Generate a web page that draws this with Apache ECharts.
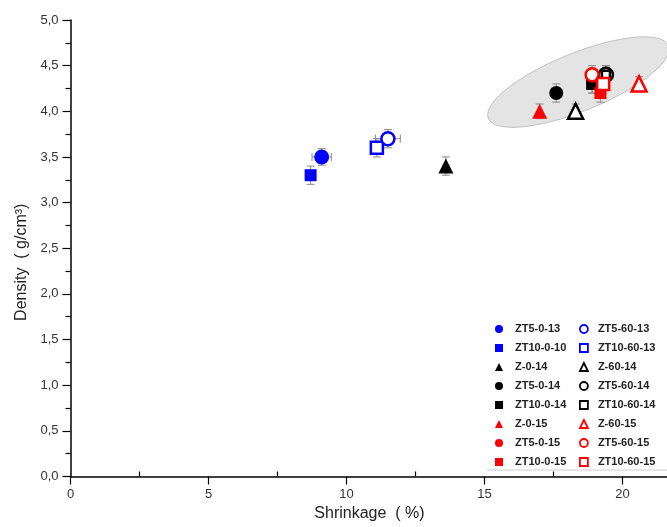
<!DOCTYPE html>
<html><head><meta charset="utf-8">
<script src="https://cdn.jsdelivr.net/npm/echarts@6/dist/echarts.min.js"></script>
<style>html,body{margin:0;padding:0;background:#fff}#c{width:667px;height:527px}</style>
</head><body><div id="c"></div>
<script>
// ---- data ----
const names = ['ZT5-0-13','ZT10-0-10','Z-0-14','ZT5-0-14','ZT10-0-14','Z-0-15','ZT5-0-15','ZT10-0-15',
  'ZT5-60-13','ZT10-60-13','Z-60-14','ZT5-60-14','ZT10-60-14','Z-60-15','ZT5-60-15','ZT10-60-15'];
const shrinkage = [9.1, 8.7, 13.6, 17.6, 18.9, 17.0, 18.9, 19.2, 11.5, 11.1, 18.3, 19.4, 19.4, 20.6, 18.9, 19.3];
const density   = [3.5, 3.3, 3.4, 4.2, 4.3, 4.0, 4.3, 4.2, 3.7, 3.6, 4.0, 4.4, 4.4, 4.3, 4.4, 4.3];
const shrinkErr = [0.35, 0, 0, 0, 0, 0, 0, 0, 0.45, 0.15, 0, 0, 0, 0, 0, 0];
const densityErr= [0.09, 0.1, 0.1, 0.1, 0.1, 0.08, 0.1, 0.1, 0.1, 0.1, 0.08, 0.1, 0.1, 0.08, 0.1, 0.1];
const xTicks = [0, 5, 10, 15, 20];
const yTicks = [0, 0.5, 1, 1.5, 2, 2.5, 3, 3.5, 4, 4.5, 5];
// cluster ellipse (annotation), centre in data units
const ellipseCentre = [18.4, 4.32];

// ---- styles ----
const colors  = ['#0000ff','#0000ff','#000','#000','#000','#ff0000','#ff0000','#ff0000',
                 '#0000ff','#0000ff','#000','#000','#000','#ff0000','#ff0000','#ff0000'];
const symbols = ['circle','rect','triangle','circle','rect','triangle','circle','rect',
                 'circle','rect','triangle','circle','rect','triangle','circle','rect'];
const hollow  = [0,0,0,0,0,0,0,0,1,1,1,1,1,1,1,1];
const sizes   = [15,12,15,14,12,15,12,12, 13,12,15,14,8,15,13,12];
// draw order (later = on top)
const drawOrder = [1,0,9,8,2,10,3,6,4,11,12,5,13,14,7,15];

const chart = echarts.init(document.getElementById('c'));
const fmt = v => String(v.toFixed(1)).replace('.', ',');

const scatterSeries = drawOrder.map(i => ({
  name: names[i], type: 'scatter', symbol: symbols[i], symbolSize: sizes[i],
  data: [[shrinkage[i], density[i]]],
  itemStyle: hollow[i] ? {color:'#fff', borderColor: colors[i], borderWidth: 2.5, opacity:1}
                       : {color: colors[i], opacity:1},
  z: 5
}));

const errData = names.map((n,i) => [shrinkage[i], density[i], shrinkErr[i], densityErr[i]]);

function legendItems(idx) {
  return idx.map(i => ({
    name: names[i], icon: symbols[i],
    itemStyle: hollow[i] ? {color:'#fff', borderColor: colors[i], borderWidth: 1.8}
                         : {color: colors[i], borderWidth: 0}
  }));
}
const legText = pad => ({fontFamily: 'Liberation Sans', fontWeight: 'bold', fontSize: 11, color: '#222',
  lineHeight: 12, padding: [0, 0, 0, pad]});

const axisCommon = {
  type: 'value', min: 0, max: 25, interval: 5
};

const option = {
  animation: false,
  backgroundColor: '#fff',
  grid: {left: 70.5, top: 20, width: 690, bottom: 50.5, containLabel: false, outerBoundsMode: 'none'},
  xAxis: [{
    ...axisCommon, position: 'bottom',
    name: 'Shrinkage  ( %)', nameLocation: 'middle', nameGap: 27,
    nameTextStyle: {fontFamily: 'Liberation Sans', fontSize: 16, color: '#222', padding: [0, 92, 0, 0]},
    axisLine: {show: true, onZero: false, lineStyle: {color: '#000', width: 1.5}},
    axisTick: {show: true, length: 8, lineStyle: {color: '#000', width: 1.2}},
    minorTick: {show: false},
    axisLabel: {margin: 11, fontFamily: 'Liberation Sans', fontSize: 13, color: '#333',
      formatter: v => xTicks.includes(v) ? String(v) : ''},
    splitLine: {show: false}
  }, {
    ...axisCommon, position: 'bottom', offset: 0,
    axisLine: {show: false, onZero: false},
    axisTick: {show: false, inside: true},
    minorTick: {show: true, splitNumber: 2, length: 5, lineStyle: {color: '#000', width: 1.2}},
    axisLabel: {show: false},
    splitLine: {show: false}
  }],
  yAxis: {
    type: 'value', min: 0, max: 5, interval: 0.5,
    name: 'Density  ( g/cm³)', nameLocation: 'middle', nameGap: 26,
    nameTextStyle: {fontFamily: 'Liberation Sans', fontSize: 16, color: '#222', padding: [0, 28, 0, 0]},
    axisLine: {show: true, onZero: false, lineStyle: {color: '#000', width: 1.5}},
    axisTick: {show: true, length: 8, lineStyle: {color: '#000', width: 1.2}},
    minorTick: {show: true, splitNumber: 2, length: 5, lineStyle: {color: '#000', width: 1.2}},
    axisLabel: {margin: 12, fontFamily: 'Liberation Sans', fontSize: 13, color: '#333',
      formatter: v => yTicks.some(t => Math.abs(t - v) < 1e-9) ? fmt(v) : ''},
    splitLine: {show: false}
  },
  legend: [
    {left: 490, top: 318, orient: 'vertical', itemWidth: 8, itemHeight: 8, itemGap: 7,
     symbolKeepAspect: true, data: legendItems([0,1,2,3,4,5,6,7]),
     textStyle: legText(7), selectedMode: false},
    {left: 574, top: 318, orient: 'vertical', itemWidth: 8, itemHeight: 8, itemGap: 7,
     symbolKeepAspect: true, data: legendItems([8,9,10,11,12,13,14,15]),
     textStyle: legText(5), selectedMode: false}
  ],
  graphic: [
    {type: 'line', shape: {x1: 487, y1: 470, x2: 667, y2: 470}, style: {stroke: '#ccc', lineWidth: 1}, silent: true}
  ],
  series: [
    {
      type: 'custom', name: 'ellipse', silent: true, z: 1, clip: false,
      data: [ellipseCentre],
      renderItem: (params, api) => {
        const c = api.coord([api.value(0), api.value(1)]);
        const a = 97, b = 29, th = -22 * Math.PI / 180;
        const pts = [];
        for (let k = 0; k < 120; k++) {
          const t = k / 120 * Math.PI * 2;
          const ex = a * Math.cos(t), ey = b * Math.sin(t);
          pts.push([c[0] + ex * Math.cos(th) - ey * Math.sin(th), c[1] + ex * Math.sin(th) + ey * Math.cos(th)]);
        }
        return {type: 'polygon', shape: {points: pts}, style: {fill: '#e4e4e4', stroke: '#c0c0c0', lineWidth: 1}};
      }
    },
    {
      type: 'custom', name: 'err', silent: true, z: 3,
      data: errData,
      renderItem: (params, api) => {
        const x = api.value(0), y = api.value(1), ex = api.value(2), ey = api.value(3);
        const st = {stroke: '#8a8a8a', lineWidth: 1};
        const ch = [];
        const cap = 4;
        if (ey > 0) {
          const p1 = api.coord([x, y - ey]), p2 = api.coord([x, y + ey]);
          ch.push({type: 'line', shape: {x1: p1[0], y1: p1[1], x2: p2[0], y2: p2[1]}, style: st});
          ch.push({type: 'line', shape: {x1: p1[0]-cap, y1: p1[1], x2: p1[0]+cap, y2: p1[1]}, style: st});
          ch.push({type: 'line', shape: {x1: p2[0]-cap, y1: p2[1], x2: p2[0]+cap, y2: p2[1]}, style: st});
        }
        if (ex > 0) {
          const p1 = api.coord([x - ex, y]), p2 = api.coord([x + ex, y]);
          ch.push({type: 'line', shape: {x1: p1[0], y1: p1[1], x2: p2[0], y2: p2[1]}, style: st});
          ch.push({type: 'line', shape: {x1: p1[0], y1: p1[1]-cap, x2: p1[0], y2: p1[1]+cap}, style: st});
          ch.push({type: 'line', shape: {x1: p2[0], y1: p2[1]-cap, x2: p2[0], y2: p2[1]+cap}, style: st});
        }
        return {type: 'group', children: ch};
      }
    }
  ].concat(scatterSeries)
};
chart.setOption(option);
</script>
</body></html>
